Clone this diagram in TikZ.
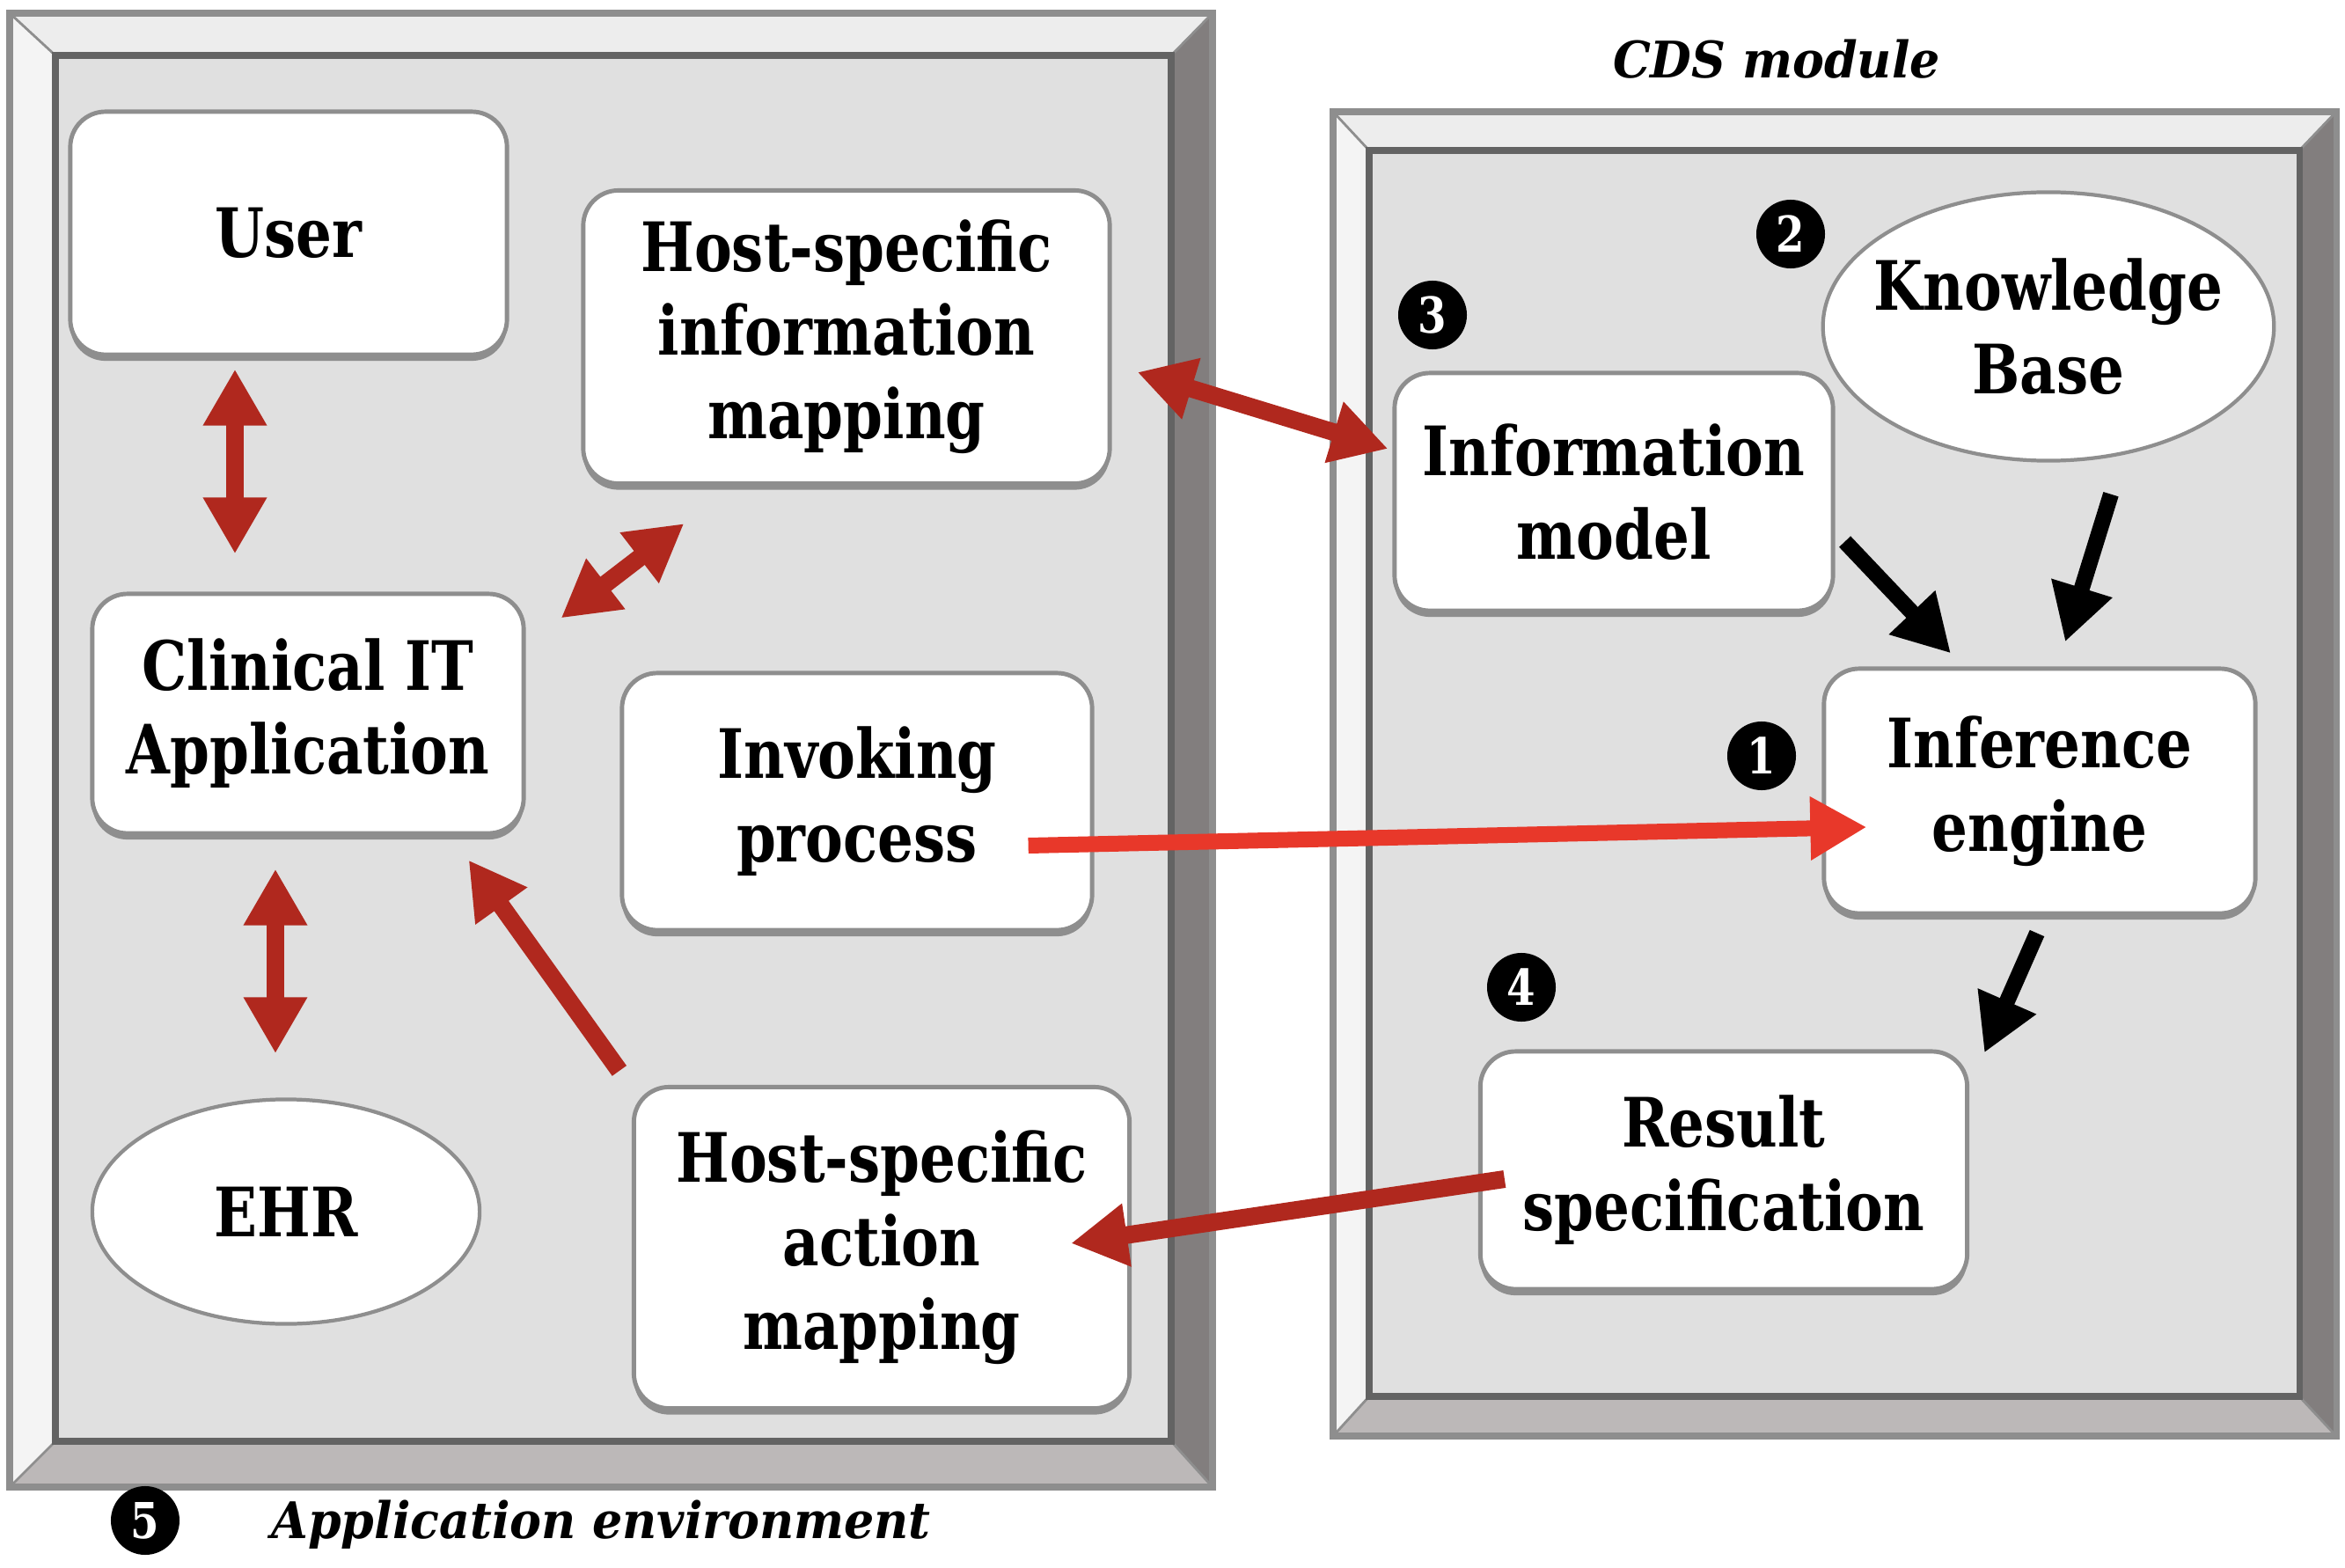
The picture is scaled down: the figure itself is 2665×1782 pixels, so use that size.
\documentclass[tikz,border=0pt]{standalone}
\usepackage{fontspec}
\setmainfont{DejaVu Serif}[FakeStretch=0.83]
\newfontfamily\framefont{DejaVu Serif}[FakeStretch=0.94]
\usetikzlibrary{arrows.meta,calc,shadows,shapes.geometric}
\definecolor{arrowred}{RGB}{176,40,30}
\definecolor{invokered}{RGB}{232,56,42}
\definecolor{panelgray}{RGB}{224,224,224}
\definecolor{edgegray}{RGB}{142,142,142}
\definecolor{bevellight}{RGB}{237,237,237}
\definecolor{bevelside}{RGB}{244,244,244}
\definecolor{beveldark}{RGB}{130,126,126}
\definecolor{bevelmid}{RGB}{188,184,184}
\tikzset{%
    module/.style={
      rectangle,
      rounded corners=0.4cm,
      draw=edgegray,
      line width=1.4pt,
      fill=white,
      align=center,
      inner sep=0pt,
      font=\bfseries\fontsize{22}{27}\selectfont,
      drop shadow={shadow xshift=0pt, shadow yshift=-2pt, fill=edgegray, opacity=1}
    },
    store/.style={
      ellipse,
      draw=edgegray,
      line width=1.2pt,
      fill=white,
      align=center,
      inner sep=0pt,
      font=\bfseries\fontsize{22}{27}\selectfont
    },
    badge/.style={
      circle,
      fill=black,
      text=white,
      minimum size=0.78cm,
      inner sep=0pt,
      font=\bfseries\fontsize{16}{16}\selectfont
    },
    framelabel/.style={
      font=\framefont\bfseries\itshape\fontsize{16.3}{18}\selectfont
    },
    flow/.style={
      line width=0.2cm,
      draw=arrowred,
      -{Triangle[length=0.64cm, width=0.68cm]}
    },
    twoway/.style={
      flow,
      {Triangle[length=0.64cm, width=0.68cm]}-{Triangle[length=0.64cm, width=0.68cm]}
    },
    call/.style={
      flow,
      draw=invokered,
      line width=0.18cm
    },
    infer/.style={
      flow,
      draw=black,
      line width=0.18cm
    }
  }

\begin{document}
\begin{tikzpicture}[x=0.01cm, y=-0.01cm]
      \useasboundingbox (0,0) rectangle (2665,1782);

      \fill[bevellight] (11,15) -- (1378,15) -- (1331,63) -- (63,63) -- cycle;
      \fill[bevelside] (11,15) -- (63,63) -- (63,1638) -- (11,1690) -- cycle;
      \fill[beveldark] (1378,15) -- (1378,1690) -- (1331,1638) -- (1331,63) -- cycle;
      \fill[bevelmid] (11,1690) -- (63,1638) -- (1331,1638) -- (1378,1690) -- cycle;
      \fill[panelgray] (63,63) rectangle (1331,1638);
      \draw[edgegray, line width=0.8pt] (11,15) -- (63,63) (1378,15) -- (1331,63)
        (11,1690) -- (63,1638) (1378,1690) -- (1331,1638);
      \draw[edgegray, line width=2pt] (11,15) rectangle (1378,1690);
      \draw[edgegray!70!black, line width=2pt] (63,63) rectangle (1331,1638);

      \fill[bevellight] (1515,127) -- (2655,127) -- (2613,171) -- (1556,171) -- cycle;
      \fill[bevelside] (1515,127) -- (1556,171) -- (1556,1587) -- (1515,1632) -- cycle;
      \fill[beveldark] (2655,127) -- (2655,1632) -- (2613,1587) -- (2613,171) -- cycle;
      \fill[bevelmid] (1515,1632) -- (1556,1587) -- (2613,1587) -- (2655,1632) -- cycle;
      \fill[panelgray] (1556,171) rectangle (2613,1587);
      \draw[edgegray, line width=0.8pt] (1515,127) -- (1556,171) (2655,127) -- (2613,171)
        (1515,1632) -- (1556,1587) (2655,1632) -- (2613,1587);
      \draw[edgegray, line width=2pt] (1515,127) rectangle (2655,1632);
      \draw[edgegray!70!black, line width=2pt] (1556,171) rectangle (2613,1587);

      \node [module, minimum width=4.96cm, minimum height=2.76cm] (user) at (328,265) {User};
      \node [module, minimum width=5.98cm, minimum height=3.33cm] (hostinfo) at (962,383) {Host-specific\\information\\mapping};
      \node [module, minimum width=4.90cm, minimum height=2.72cm] (clinical) at (350,811) {Clinical IT\\Application};
      \node [module, minimum width=5.34cm, minimum height=2.92cm] (invoking) at (974,911) {Invoking\\process};
      \node [store, minimum width=4.40cm, minimum height=2.55cm] (ehr) at (325,1377) {EHR};
      \node [module, minimum width=5.63cm, minimum height=3.65cm] (hostaction) at (1002,1418) {Host-specific\\action\\mapping};

      \node [module, minimum width=4.98cm, minimum height=2.70cm] (infomodel) at (1834,559) {Information\\model};
      \node [store, inner xsep=-0.17cm, minimum width=5.10cm, minimum height=3.05cm] (kb) at (2328,371) {Knowledge\\Base};
      \node [module, minimum width=4.90cm, minimum height=2.78cm] (inference) at (2318,899) {Inference\\engine};
      \node [module, minimum width=5.53cm, minimum height=2.70cm] (result) at (1959,1330) {Result\\specification};

      \node [badge] (b1) at (2002,859) {1};
      \node [badge] (b2) at (2035,266) {2};
      \node [badge] (b3) at (1628,358) {3};
      \node [badge] (b4) at (1729,1122) {4};
      \node [badge] (b5) at (165,1728) {5};

      \node [framelabel] (cdslabel) at (2019,67) {CDS module};
      \node [framelabel, anchor=west] (applabel) at (296,1733) {Application environment};

      \draw [twoway] ($(user.south)+(-61,14)$) -- ($(clinical.north)+(-83,-43)$);
      \draw [twoway] ($(clinical.south)+(-37,38)$) -- ($(ehr.north)+(-12,-50)$);
      \draw [twoway] ($(clinical.north east)+(40,30)$) -- ($(hostinfo.south west)+(117,43)$);
      \draw [twoway] ($(hostinfo.east)+(29,40)$) -- ($(infomodel.west)+(-5,-49)$);
      \draw [flow] ($(hostaction.north west)+(-14,-16)$) -- ($(clinical.south east)+(-65,28)$);
      \draw [flow] ($(result.west)+(30,10)$) -- ($(hostaction.east)+(-69,-5)$);
      \draw [call] ($(invoking.east)+(-75,50)$) -- ($(inference.west)+(51,41)$);

      \draw [infer] ($(infomodel.south east)+(11,-81)$) -- ($(inference.north)+(-101,-15)$);
      \draw [infer] ($(kb.south)+(71,36)$) -- ($(inference.north)+(29,-28)$);
      \draw [infer] ($(inference.south)+(-3,20)$) -- ($(result.north east)+(17,4)$);

    \end{tikzpicture}
\end{document}
